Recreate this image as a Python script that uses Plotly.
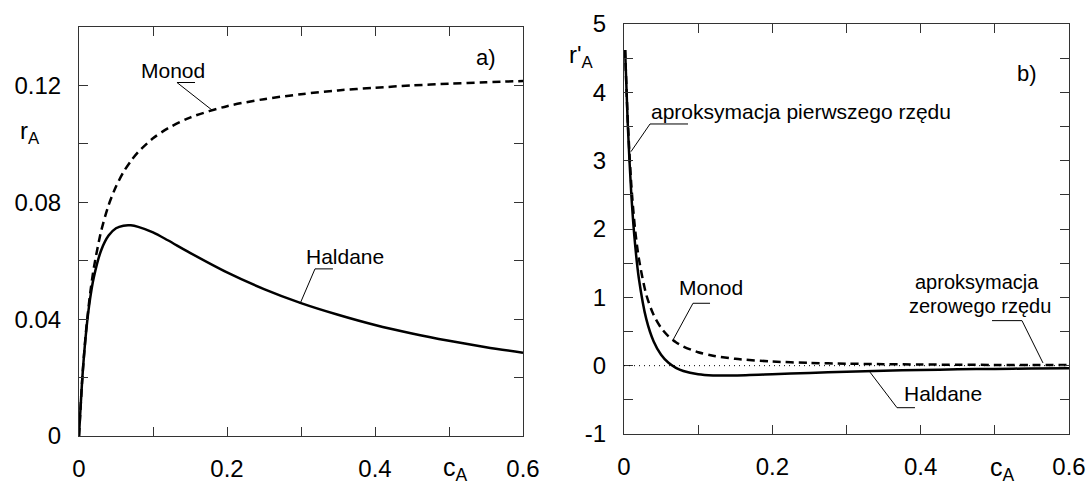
import plotly.graph_objects as go

# ---- data ----
cA_a = [0, 0.005, 0.01, 0.015, 0.02, 0.03, 0.04, 0.05, 0.06, 0.07, 0.08, 0.1, 0.12,
        0.15, 0.2, 0.25, 0.3, 0.35, 0.4, 0.45, 0.5, 0.55, 0.6]
monod_a = [0, 0.0218, 0.0372, 0.0486, 0.0575, 0.0702, 0.0790, 0.0854, 0.0903, 0.0941,
           0.0972, 0.1019, 0.1053, 0.1090, 0.1129, 0.1153, 0.1170, 0.1183, 0.1192,
           0.1200, 0.1206, 0.1211, 0.1215]
haldane_a = [0, 0.0217, 0.0366, 0.0470, 0.0543, 0.0636, 0.0686, 0.0711, 0.0720, 0.0721,
             0.0716, 0.0697, 0.0670, 0.0627, 0.0560, 0.0503, 0.0455, 0.0415, 0.0380,
             0.0351, 0.0326, 0.0304, 0.0285]

cA_b = [0.0015, 0.005, 0.01, 0.015, 0.02, 0.03, 0.04, 0.05, 0.06, 0.07, 0.08, 0.1, 0.12,
        0.15, 0.2, 0.25, 0.3, 0.35, 0.4, 0.45, 0.5, 0.55, 0.6]
monod_b = [4.62, 3.61, 2.62, 1.99, 1.57, 1.04, 0.741, 0.554, 0.430, 0.343, 0.281, 0.197,
           0.146, 0.100, 0.061, 0.040, 0.029, 0.022, 0.017, 0.0135, 0.011, 0.009, 0.008]
haldane_b = [4.62, 3.55, 2.48, 1.77, 1.28, 0.684, 0.354, 0.160, 0.042, -0.032, -0.079,
             -0.126, -0.143, -0.144, -0.126, -0.106, -0.088, -0.074, -0.063, -0.054,
             -0.047, -0.041, -0.036]

x_ticks = [0, 0.2, 0.4, 0.6]
x_ticktext = ["0", "0.2", "0.4", "0.6"]
ya_ticks = [0, 0.04, 0.08, 0.12]
ya_ticktext = ["0", "0.04", "0.08", "0.12"]
yb_ticks = [-1, 0, 1, 2, 3, 4, 5]
yb_ticktext = ["-1", "0", "1", "2", "3", "4", "5"]

W, H = 1089, 484
FONT = "Liberation Sans, Arial, sans-serif"
AX = "#333333"

fig = go.Figure()
dash = "8px,5px"
fig.add_trace(go.Scatter(x=cA_a, y=monod_a, mode="lines", xaxis="x", yaxis="y",
                         line=dict(color="black", width=2.5, dash=dash, shape="spline", smoothing=0.8)))
fig.add_trace(go.Scatter(x=cA_a, y=haldane_a, mode="lines", xaxis="x", yaxis="y",
                         line=dict(color="black", width=2.5, shape="spline", smoothing=0.8)))
fig.add_trace(go.Scatter(x=cA_b, y=monod_b, mode="lines", xaxis="x2", yaxis="y2",
                         line=dict(color="black", width=2.5, dash=dash, shape="spline", smoothing=0.8)))
fig.add_trace(go.Scatter(x=cA_b, y=haldane_b, mode="lines", xaxis="x2", yaxis="y2",
                         line=dict(color="black", width=2.5, shape="spline", smoothing=0.8)))

def axis(minor_dtick, **kw):
    d = dict(showline=True, linecolor=AX, linewidth=1, mirror="allticks", ticks="inside",
             ticklen=9, tickcolor=AX, tickwidth=1, showgrid=False, zeroline=False,
             automargin=False,
             minor=dict(ticks="inside", ticklen=9, tickcolor=AX, tickwidth=1,
                        dtick=minor_dtick, showgrid=False),
             tickfont=dict(family=FONT, size=24, color="black"), tickmode="array")
    d.update(kw)
    return d

fig.update_layout(
    width=W, height=H, margin=dict(l=0, r=0, t=0, b=0, autoexpand=False),
    paper_bgcolor="white", plot_bgcolor="white", showlegend=False,
    xaxis=axis(0.1, domain=[79 / W, 523 / W], range=[0, 0.6], tickvals=x_ticks,
               ticktext=x_ticktext, anchor="y", ticklabelstandoff=11),
    yaxis=axis(0.02, domain=[1 - 436 / H, 1 - 27 / H], range=[0, 0.14], tickvals=ya_ticks,
               ticktext=ya_ticktext, anchor="x", ticklabelstandoff=12),
    xaxis2=axis(0.1, domain=[624 / W, 1069 / W], range=[0, 0.6], tickvals=x_ticks,
                ticktext=x_ticktext, anchor="y2", ticklabelstandoff=11),
    yaxis2=axis(0.5, domain=[1 - 434 / H, 1 - 24 / H], range=[-1, 5], tickvals=yb_ticks,
                ticktext=yb_ticktext, anchor="x2", ticklabelstandoff=12),
)

def ann(text, x, y, xref, yref, size=21):
    fig.add_annotation(text=text, x=x, y=y, xref=xref, yref=yref, showarrow=False,
                       xanchor="center", yanchor="middle",
                       font=dict(family=FONT, size=size, color="black"))

def leader(pts, xref, yref):
    path = "M " + " L ".join(f"{px},{py}" for px, py in pts)
    fig.add_shape(type="path", path=path, xref=xref, yref=yref,
                  line=dict(color="black", width=1))

# panel a
ann("Monod", 0.127, 0.1250, "x", "y")
leader([(0.1568, 0.1210), (0.1324, 0.1210), (0.1811, 0.1113)], "x", "y")
ann("Haldane", 0.3595, 0.0613, "x", "y")
leader([(0.3432, 0.0572), (0.3189, 0.0572), (0.2986, 0.0452)], "x", "y")
ann("a)", 0.55, 0.1297, "x", "y", size=22)

# panel b
fig.add_shape(type="line", x0=0, x1=0.6, y0=0, y1=0, xref="x2", yref="y2",
              line=dict(color="black", width=1, dash="1px,4px"))
ann("aproksymacja pierwszego rzędu", 0.2393, 3.713, "x2", "y2")
leader([(0.0863, 3.537), (0.0351, 3.537), (0.0094, 3.132)], "x2", "y2")
ann("Monod", 0.1173, 1.137, "x2", "y2")
leader([(0.1160, 0.913), (0.0930, 0.913), (0.0661, 0.376)], "x2", "y2")
ann("aproksymacja", 0.476, 1.225, "x2", "y2", size=20)
ann("zerowego rzędu", 0.480, 0.880, "x2", "y2", size=20)
leader([(0.4962, 0.659), (0.5366, 0.659), (0.5649, 0.040)], "x2", "y2")
ann("Haldane", 0.4301, -0.400, "x2", "y2")
leader([(0.3923, -0.615), (0.3681, -0.615), (0.3317, -0.095)], "x2", "y2")
ann("b)", 0.5434, 4.27, "x2", "y2", size=22)

# axis titles
def pann(text, px, py, size=24):
    fig.add_annotation(text=text, x=px / W, y=1 - py / H, xref="paper", yref="paper",
                       showarrow=False, xanchor="center", yanchor="middle",
                       font=dict(family=FONT, size=size, color="black"))

pann("r<sub>A</sub>", 30, 132)
pann("r'<sub>A</sub>", 581, 56)
pann("c<sub>A</sub>", 455, 469, size=25)
pann("c<sub>A</sub>", 1002, 469, size=25)

fig.write_html("out.html")
